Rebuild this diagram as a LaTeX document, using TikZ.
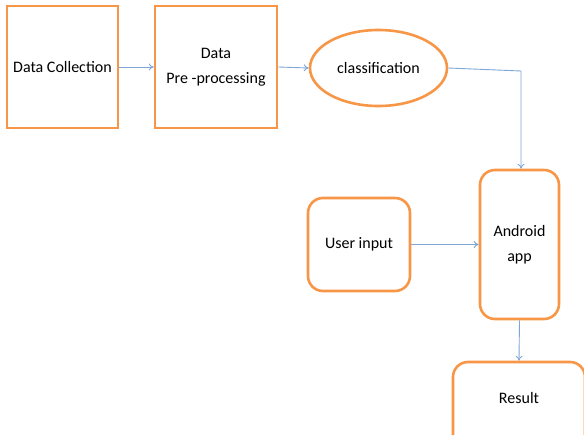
\documentclass[tikz,border=0pt]{standalone}
\usepackage{fontspec}
\setmainfont{Carlito}
\usetikzlibrary{shapes.geometric,arrows.meta}
\definecolor{boxorange}{HTML}{F79646}
\definecolor{linkblue}{HTML}{7EA6D8}
\begin{document}
\begin{tikzpicture}[x=1pt,y=-1pt,
  box/.style={draw=boxorange,line width=2.6pt,fill=white,inner sep=0pt,
    font=\fontsize{16}{25}\selectfont,align=center,text=black},
  rbox/.style={box,rounded corners=15pt},
  link/.style={draw=linkblue,line width=0.9pt,-{To[length=5pt,width=7pt]}}]
\useasboundingbox (0,0) rectangle (584,434);
\clip (0,0) rectangle (584,434);
\node[box,minimum width=111pt,minimum height=122pt] (dc) at (62.5,67) {Data Collection};
\node[box,minimum width=122pt,minimum height=122pt] (pp) at (216,67) {Data\\Pre -processing};
\node[box,ellipse,minimum width=137pt,minimum height=76pt] (cl) at (378.5,68) {classification};
\node[rbox,minimum width=79pt,minimum height=149pt] (aa) at (519.5,244.5) {Android\\app};
\node[rbox,minimum width=102pt,minimum height=93pt] (ui) at (359,244.5) {User input};
\node[rbox,minimum width=132pt,minimum height=90pt] (rs) at (519,407) {};
\node[font=\fontsize{16}{25}\selectfont,text=black] (rt) at (519,398) {Result};
\coordinate (bend) at (521,71);
\draw[link] (dc.east) -- (pp.west |- dc.east);
\draw[link] (pp.east) -- (cl.west);
\draw[link] (cl.east) -- (bend) -- (bend |- aa.north);
\draw[link] (ui.east) -- (aa.west |- ui.east);
\draw[link] (aa.south) -- (rs.north);
\end{tikzpicture}
\end{document}
